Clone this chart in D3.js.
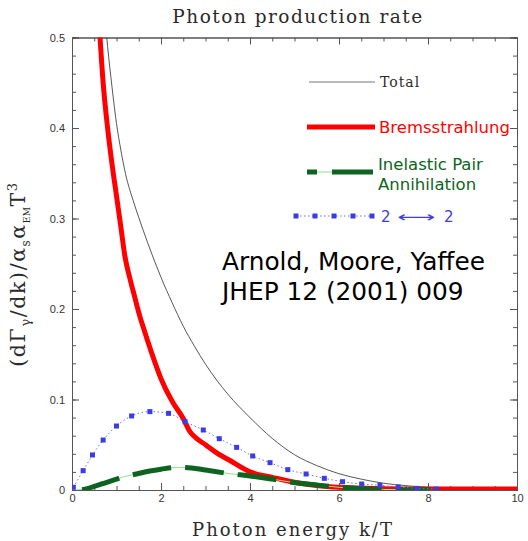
<!DOCTYPE html>
<html><head><meta charset="utf-8">
<script src="https://cdn.jsdelivr.net/npm/d3@7"></script>
<style>body{margin:0;background:#fff}svg{display:block}</style>
</head><body>
<script>
// ---- data ----
const bremsK = [0.55,0.6,0.7,0.8,0.9,1.0,1.1,1.19,1.3,1.4,1.53,1.6,1.8,2.0,2.25,2.5,2.65,2.75,3.0,3.25,3.5,4.0,4.5,5.0,5.5,6.0,7.0,8.0,9.0,10.0];
const bremsV = [0.57,0.525,0.45,0.40,0.36,0.325,0.29,0.258,0.234,0.215,0.191,0.18,0.15,0.123,0.098,0.079,0.0645,0.059,0.050,0.041,0.034,0.020,0.014,0.0085,0.005,0.003,0.0015,0.001,0.001,0.001];

const totalK = [0.7,0.8,0.9,1.0,1.1,1.2,1.4,1.6,1.8,2.0,2.25,2.5,2.75,3.0,3.5,4.0,4.5,5.0,5.5,6.0,6.5,7.0,7.5,8.0,9.0,10.0];
const totalV = [0.545,0.49,0.445,0.405,0.375,0.35,0.316,0.287,0.26,0.235,0.207,0.181,0.159,0.139,0.106,0.080,0.057,0.039,0.027,0.018,0.012,0.0075,0.0048,0.003,0.0015,0.001];

const pairK = [0.0,0.25,0.5,0.75,1.0,1.12,1.45,1.75,2.0,2.35,2.69,3.0,3.59,3.96,4.5,4.86,5.5,6.0,6.5,7.0,7.5,8.05];
const pairV = [0.0,0.0005,0.004,0.008,0.012,0.014,0.0177,0.021,0.023,0.025,0.0243,0.022,0.0177,0.0158,0.012,0.0092,0.0055,0.003,0.0015,0.0006,0.0003,0.0002];

const twoK = [0.03,0.25,0.46,0.70,1.0,1.34,1.75,2.17,2.54,2.95,3.31,3.70,4.06,4.45,4.85,5.26,5.67,6.08,6.51,6.92,7.33,7.75,8.18];
const twoV = [0.003,0.0214,0.0387,0.0552,0.0707,0.0818,0.0866,0.0847,0.0755,0.0663,0.0567,0.0471,0.0376,0.0302,0.0225,0.0177,0.0129,0.0092,0.0066,0.0052,0.0033,0.0018,0.0011];

const xTicks = [0,2,4,6,8,10];
const yTicks = [0,0.1,0.2,0.3,0.4,0.5];
const legendLabels = ["Total","Bremsstrahlung","Inelastic Pair","Annihilation"];
const twoTwoParts = ["2","\u27F7","2"];
const noteLines = ["Arnold, Moore, Yaffee","JHEP 12 (2001) 009"];

// ---- layout ----
const W = 528, H = 541;
const L = 72, R = 517, T = 37.5, B = 490;
const svg = d3.select("body").append("svg").attr("width",W).attr("height",H);
const x = d3.scaleLinear().domain([0,10]).range([L,R]);
const y = d3.scaleLinear().domain([0,0.5]).range([B,T]);

const axisCol = "#555";
const serif = "'DejaVu Serif', serif";
const sans = "'Liberation Sans', Arial, sans-serif";
const dsans = "'DejaVu Sans', sans-serif";

svg.append("defs").append("clipPath").attr("id","clip")
  .append("rect").attr("x",L).attr("y",T).attr("width",R-L).attr("height",B-T);

// title
svg.append("text").attr("x",298).attr("y",23).attr("text-anchor","middle")
  .attr("font-family",serif).attr("font-size",18.5).attr("letter-spacing",1.5).attr("fill","#2a2a2a")
  .text("Photon production rate");

// axes (ticks inward on all four sides)
const minorX = d3.range(0,10.01,0.5), minorY = d3.range(0,0.5001,0.02);
function ax(axisFn, scale, major, minor, tr, fmt){
  const gMinor = svg.append("g").attr("transform",tr)
    .call(axisFn(scale).tickValues(minor).tickSize(-4).tickFormat(""));
  const gMajor = svg.append("g").attr("transform",tr)
    .call(axisFn(scale).tickValues(major).tickSize(-7).tickPadding(10).tickFormat(fmt));
  [gMinor,gMajor].forEach(g=>{
    g.selectAll("path").attr("stroke",axisCol);
    g.selectAll("line").attr("stroke",axisCol);
    g.selectAll("text").attr("font-family",sans).attr("font-size",11).attr("fill","#333");
  });
  return gMajor;
}
const fx = d => d3.format("d")(d);
const fy = d => d===0 ? "0" : d3.format(".1f")(d);
ax(d3.axisBottom, x, xTicks, minorX, `translate(0,${B})`, fx).selectAll("text").attr("dy","0.71em").attr("y",4);
ax(d3.axisTop, x, xTicks, minorX, `translate(0,${T})`, "");
ax(d3.axisLeft, y, yTicks, minorY, `translate(${L},0)`, fy).selectAll("text").attr("x",-7);
ax(d3.axisRight, y, yTicks, minorY, `translate(${R},0)`, "");

// axis labels
svg.append("text").attr("x",293).attr("y",536).attr("text-anchor","middle")
  .attr("font-family",serif).attr("font-size",18).attr("letter-spacing",2).attr("fill","#2a2a2a")
  .text("Photon energy k/T");

const yl = svg.append("text").attr("transform","translate(25,274) rotate(-90)")
  .attr("text-anchor","middle").attr("font-family",serif).attr("font-size",20.5)
  .attr("letter-spacing",1.6).attr("fill","#2a2a2a");
yl.append("tspan").text("(d\u0393");
yl.append("tspan").attr("font-size",13).attr("dy",5).text("\u03B3");
yl.append("tspan").attr("dy",-5).text("/dk)/\u03B1");
yl.append("tspan").attr("font-size",12).attr("dy",5).text("s");
yl.append("tspan").attr("dy",-5).text("\u03B1");
yl.append("tspan").attr("font-size",9).attr("letter-spacing",0.5).attr("dy",5).text("EM");
yl.append("tspan").attr("dy",-5).text("T");
yl.append("tspan").attr("font-size",13).attr("dy",-8).text("3");

// curves
const line = d3.line().x(d=>x(d[0])).y(d=>y(d[1])).curve(d3.curveMonotoneX);
const plot = svg.append("g").attr("clip-path","url(#clip)");
const zip = (a,b) => a.map((v,i)=>[v,b[i]]);

const green = "#0d6420", lightGreen = "#8be68b", red = "#ff0000", blue = "#3c3ce6";

plot.append("path").datum(zip(totalK,totalV)).attr("d",line)
  .attr("fill","none").attr("stroke","#444").attr("stroke-width",0.9);

plot.append("path").datum(zip(bremsK,bremsV)).attr("d",line)
  .attr("fill","none").attr("stroke",red).attr("stroke-width",5);

plot.append("path").datum(zip(pairK,pairV)).attr("d",line)
  .attr("fill","none").attr("stroke",lightGreen).attr("stroke-width",1);
plot.append("path").datum(zip(pairK,pairV)).attr("d",line)
  .attr("fill","none").attr("stroke",green).attr("stroke-width",5)
  .attr("stroke-dasharray","39 14").attr("stroke-dashoffset",43);

plot.append("path").datum(zip(twoK,twoV)).attr("d",line)
  .attr("fill","none").attr("stroke","#6f6ff5").attr("stroke-width",1)
  .attr("stroke-dasharray","1.5 2.5");
plot.selectAll("rect.m").data(zip(twoK,twoV)).join("rect").attr("class","m")
  .attr("x",d=>x(d[0])-2.5).attr("y",d=>y(d[1])-2.5).attr("width",5).attr("height",5)
  .attr("fill",blue);

// legend
const lg = svg.append("g");
lg.append("line").attr("x1",309).attr("x2",375).attr("y1",82).attr("y2",82).attr("stroke","#777").attr("stroke-width",1);
lg.append("text").attr("x",380).attr("y",87).attr("font-family",serif).attr("font-size",14).attr("letter-spacing",1).attr("fill","#2a2a2a").text(legendLabels[0]);

lg.append("line").attr("x1",307).attr("x2",375).attr("y1",127).attr("y2",127).attr("stroke",red).attr("stroke-width",5);
lg.append("text").attr("x",379).attr("y",132.5).attr("font-family",dsans).attr("font-size",16.5).attr("fill",red).text(legendLabels[1]);

lg.append("line").attr("x1",307).attr("x2",373).attr("y1",172).attr("y2",172).attr("stroke",lightGreen).attr("stroke-width",1);
lg.append("line").attr("x1",307).attr("x2",317).attr("y1",172).attr("y2",172).attr("stroke",green).attr("stroke-width",5);
lg.append("line").attr("x1",332).attr("x2",373).attr("y1",172).attr("y2",172).attr("stroke",green).attr("stroke-width",5);
lg.append("text").attr("x",378).attr("y",170).attr("font-family",dsans).attr("font-size",16.5).attr("fill",green).text(legendLabels[2]);
lg.append("text").attr("x",378).attr("y",190).attr("font-family",dsans).attr("font-size",16.5).attr("fill",green).text(legendLabels[3]);

lg.append("line").attr("x1",296).attr("x2",372).attr("y1",216).attr("y2",216).attr("stroke","#6f6ff5").attr("stroke-width",1).attr("stroke-dasharray","1.5 2.5");
lg.selectAll("rect.lm").data([296,315,334,353,372]).join("rect").attr("class","lm")
  .attr("x",d=>d-2.5).attr("y",213.5).attr("width",5).attr("height",5).attr("fill",blue);
const tt = lg.append("text").attr("y",222).attr("font-family",dsans).attr("font-size",15).attr("fill",blue);
tt.append("tspan").attr("x",381).text(twoTwoParts[0]);
tt.append("tspan").attr("x",397).attr("textLength",38).attr("lengthAdjust","spacingAndGlyphs").text(twoTwoParts[1]);
tt.append("tspan").attr("x",444).text(twoTwoParts[2]);

// annotation
noteLines.forEach((t,i)=>{
  svg.append("text").attr("x",222).attr("y",270+i*30).attr("font-family",dsans)
    .attr("font-size",24.8).attr("fill","#000").text(t);
});
</script>
</body></html>
